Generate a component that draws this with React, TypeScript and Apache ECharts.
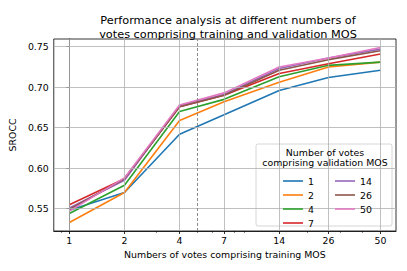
import React, { useEffect, useRef } from "react";
import * as echarts from "echarts";

const trainVotes = [1, 2, 4, 7, 14, 26, 50];
const minorTickValues = [0.9, 3, 5, 6, 8, 9, 20, 30, 40];
const yTicks = [0.55, 0.6, 0.65, 0.7, 0.75];
const dashedAt = 5;

const seriesNames = ["1", "2", "4", "7", "14", "26", "50"];
const v1 = [0.548, 0.570, 0.642, 0.666, 0.696, 0.712, 0.721];
const v2 = [0.533, 0.570, 0.659, 0.682, 0.706, 0.725, 0.731];
const v4 = [0.544, 0.579, 0.670, 0.685, 0.713, 0.727, 0.731];
const v7 = [0.555, 0.587, 0.676, 0.690, 0.717, 0.729, 0.741];
const v14 = [0.551, 0.585, 0.677, 0.691, 0.723, 0.736, 0.747];
const v26 = [0.549, 0.587, 0.676, 0.690, 0.721, 0.734, 0.745];
const v50 = [0.547, 0.588, 0.678, 0.693, 0.725, 0.736, 0.749];
const seriesValues = [v1, v2, v4, v7, v14, v26, v50];
const colors = ["#1f77b4", "#ff7f0e", "#2ca02c", "#d62728", "#9467bd", "#8c564b", "#e377c2"];

const FONT = "DejaVu Sans";
const FS = 9.4;
const lg = (v: number) => Math.log2(v);

export default function App() {
  const ref = useRef<HTMLDivElement>(null);
  useEffect(() => {
    if (!ref.current) return;
    const chart = echarts.init(ref.current, null, { renderer: "svg" });
    const xMin = lg(trainVotes[0]) - 0.05 * (lg(trainVotes[6]) - lg(trainVotes[0]));
    const xMax = lg(trainVotes[6]) + 0.05 * (lg(trainVotes[6]) - lg(trainVotes[0]));
    const labelFor = (v: number) => {
      let best = trainVotes[0];
      trainVotes.forEach((t) => {
        if (Math.abs(lg(t) - v) < Math.abs(lg(best) - v)) best = t;
      });
      return String(best);
    };
    const lines: any[] = seriesValues.map((vals, i) => ({
      name: seriesNames[i],
      type: "line",
      data: vals.map((v, j) => [lg(trainVotes[j]), v]),
      xAxisIndex: 0,
      showSymbol: false,
      symbol: "none",
      lineStyle: { width: 1.6, color: colors[i] },
      itemStyle: { color: colors[i] },
      z: 3,
    }));
    const gridLines: any = {
      type: "line",
      data: [],
      xAxisIndex: 0,
      z: 1,
      silent: true,
      markLine: {
        silent: true,
        symbol: "none",
        label: { show: false },
        lineStyle: { color: "#b0b0b0", width: 0.8, type: "solid" },
        data: [
          ...trainVotes.map((t) => ({ xAxis: lg(t) })),
          ...yTicks.map((t) => ({ yAxis: t })),
          { xAxis: lg(dashedAt), lineStyle: { color: "#8a8a8a", type: [3, 2], width: 1 } },
        ],
      },
    };
    chart.setOption({
      animation: false,
      textStyle: { fontFamily: FONT },
      title: {
        text: "Performance analysis at different numbers of\nvotes comprising training and validation MOS",
        left: 223,
        top: 8,
        textAlign: "center",
        textStyle: { fontFamily: FONT, fontSize: 11.3, fontWeight: "normal", color: "#000", lineHeight: 14.5 },
      },
      grid: { left: 51, right: 11, top: 39, bottom: 40, show: true, borderColor: "#000", borderWidth: 0.8, backgroundColor: "transparent" },
      xAxis: [
        {
          type: "value",
          min: xMin,
          max: xMax,
          position: "bottom",
          name: "Numbers of votes comprising training MOS",
          nameLocation: "middle",
          nameGap: 19,
          nameTextStyle: { fontFamily: FONT, fontSize: FS, color: "#000" },
          axisLine: { show: true, lineStyle: { color: "#000", width: 0.8 } },
          axisTick: { show: true, length: 3, lineStyle: { color: "#000", width: 0.8 }, customValues: trainVotes.map(lg) },
          axisLabel: { show: true, margin: 5, fontFamily: FONT, fontSize: FS, color: "#000", customValues: trainVotes.map(lg), formatter: (v: number) => labelFor(v) },
          splitLine: { show: false },
        },
        {
          type: "value",
          min: xMin,
          max: xMax,
          position: "bottom",
          axisLine: { show: false },
          axisTick: { show: true, length: 1.8, lineStyle: { color: "#000", width: 0.6 }, customValues: minorTickValues.map(lg) },
          axisLabel: { show: false },
          splitLine: { show: false },
        },
      ],
      yAxis: {
        type: "value",
        min: 0.5225,
        max: 0.7595,
        name: "SROCC",
        nameLocation: "middle",
        nameGap: 31,
        nameTextStyle: { fontFamily: FONT, fontSize: FS, color: "#000" },
        axisLine: { show: true, lineStyle: { color: "#000", width: 0.8 } },
        axisTick: { show: true, length: 3, lineStyle: { color: "#000", width: 0.8 }, customValues: yTicks },
        axisLabel: { show: true, margin: 5, fontFamily: FONT, fontSize: FS, color: "#000", customValues: yTicks, formatter: (v: number) => v.toFixed(2) },
        splitLine: { show: false },
      },
      legend: [
        {
          data: seriesNames.slice(0, 4),
          orient: "vertical",
          left: 278,
          top: 171,
          icon: "rect",
          itemWidth: 20,
          itemHeight: 1.6,
          itemGap: 4,
          z: 6,
          textStyle: { fontFamily: FONT, fontSize: FS, color: "#000", lineHeight: 10 },
        },
        {
          data: seriesNames.slice(4),
          orient: "vertical",
          left: 330,
          top: 171,
          icon: "rect",
          itemWidth: 20,
          itemHeight: 1.6,
          itemGap: 4,
          z: 6,
          textStyle: { fontFamily: FONT, fontSize: FS, color: "#000", lineHeight: 10 },
        },
      ],
      graphic: [
        {
          type: "rect",
          z: 5,
          shape: { x: 256, y: 144, width: 136, height: 82, r: 2 },
          style: { fill: "rgba(255,255,255,0.85)", stroke: "#cccccc", lineWidth: 0.8 },
        },
        {
          type: "text",
          z: 6,
          x: 325,
          y: 152.5,
          style: { text: "Number of votes", fontFamily: FONT, fontSize: FS, fill: "#000", align: "center", verticalAlign: "middle" },
        },
        {
          type: "text",
          z: 6,
          x: 325,
          y: 162.8,
          style: { text: "comprising validation MOS", fontFamily: FONT, fontSize: FS, fill: "#000", align: "center", verticalAlign: "middle" },
        },
      ],
      series: [gridLines, ...lines],
    });
    return () => chart.dispose();
  }, []);
  return <div ref={ref} style={{ width: 407, height: 271, position: "absolute", left: 0, top: 0 }} />;
}
